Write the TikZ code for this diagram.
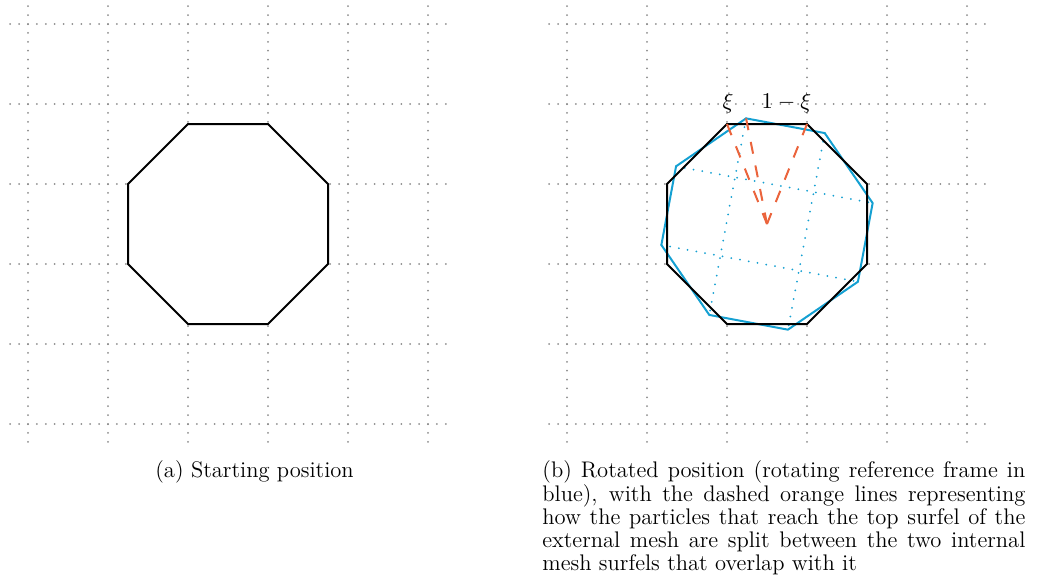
\RequirePackage{fix-cm}
\documentclass[tikz,border=0pt]{standalone}
\definecolor{meshblue}{RGB}{20,160,210}
\definecolor{splitorange}{RGB}{235,100,60}
\begin{document}
\begin{tikzpicture}[x=0.5pt,y=-0.5pt,
  griddots/.style={draw=black!45, line width=1pt, line cap=round, dash pattern=on 0pt off 4.4444pt},
  bluedots/.style={draw=meshblue, line width=1pt, line cap=round, dash pattern=on 0pt off 4.4444pt},
  extmesh/.style={draw=black, line width=1pt},
  intmesh/.style={draw=meshblue, line width=1pt},
  split/.style={draw=splitorange, line width=1pt, dash pattern=on 6pt off 6pt},
  captiontext/.style={font=\fontsize{11.28pt}{11.6pt}\selectfont, inner sep=0pt, anchor=north west},
  lab/.style={font=\fontsize{11.28pt}{11.6pt}\selectfont, inner sep=0pt, anchor=base}
]
\useasboundingbox (0,0) rectangle (1050,586);
% dotted grids
\foreach \ox in {0,539}{
  \foreach \i in {0,...,5}{
    \draw[griddots] (\ox+28+80*\i,6.22) -- (\ox+28+80*\i,442.3);
    \draw[griddots] (\ox+10.22,24+80*\i) -- (\ox+446.3,24+80*\i);
  }
}
% panel (a)
\begin{scope}[shift={(228,224)}]
  \filldraw[extmesh, fill=white] (-40,-100) -- (40,-100) -- (100,-40) -- (100,40) -- (40,100) -- (-40,100) -- (-100,40) -- (-100,-40) -- cycle;
\end{scope}
% panel (b)
\begin{scope}[shift={(767,224)}]
  \fill[white] (-40,-100) -- (40,-100) -- (100,-40) -- (100,40) -- (40,100) -- (-40,100) -- (-100,40) -- (-100,-40) -- cycle;
  \begin{scope}[rotate=-10.6]
    \draw[bluedots] (-40,-100) -- (-40,100);
    \draw[bluedots] (40,-100) -- (40,100);
    \draw[bluedots] (-100,-40) -- (100,-40);
    \draw[bluedots] (-100,40) -- (100,40);
    \draw[intmesh] (-40,-100) -- (40,-100) -- (100,-40) -- (100,40) -- (40,100) -- (-40,100) -- (-100,40) -- (-100,-40) -- cycle;
    \coordinate (bv) at (-40,-100);
  \end{scope}
  \draw[extmesh] (-40,-100) -- (40,-100) -- (100,-40) -- (100,40) -- (40,100) -- (-40,100) -- (-100,40) -- (-100,-40) -- cycle;
  \coordinate (tl) at (-40,-100);
  \coordinate (tr) at (40,-100);
  \coordinate (c) at (0,0);
\end{scope}
\draw[split] (tl) -- (c);
\draw[split] (bv) -- (c);
\draw[split] (tr) -- (c);
\node[lab] (xi) at (728,108.5) {$\xi$};
\node[lab] (onemxi) at (786.5,108.5) {$1-\xi$};
% captions
\node[captiontext] (capa) at (155,460.5) {(a) Starting position};
\node[captiontext, text width=241.5pt, align=justify] (capb) at (542,460.5) {\noindent(b) Rotated position (rotating reference frame in\linebreak blue), with the dashed orange lines representing\linebreak how the particles that reach the top surfel of the\linebreak external mesh are split between the two internal\linebreak mesh surfels that overlap with it};
\end{tikzpicture}
\end{document}
